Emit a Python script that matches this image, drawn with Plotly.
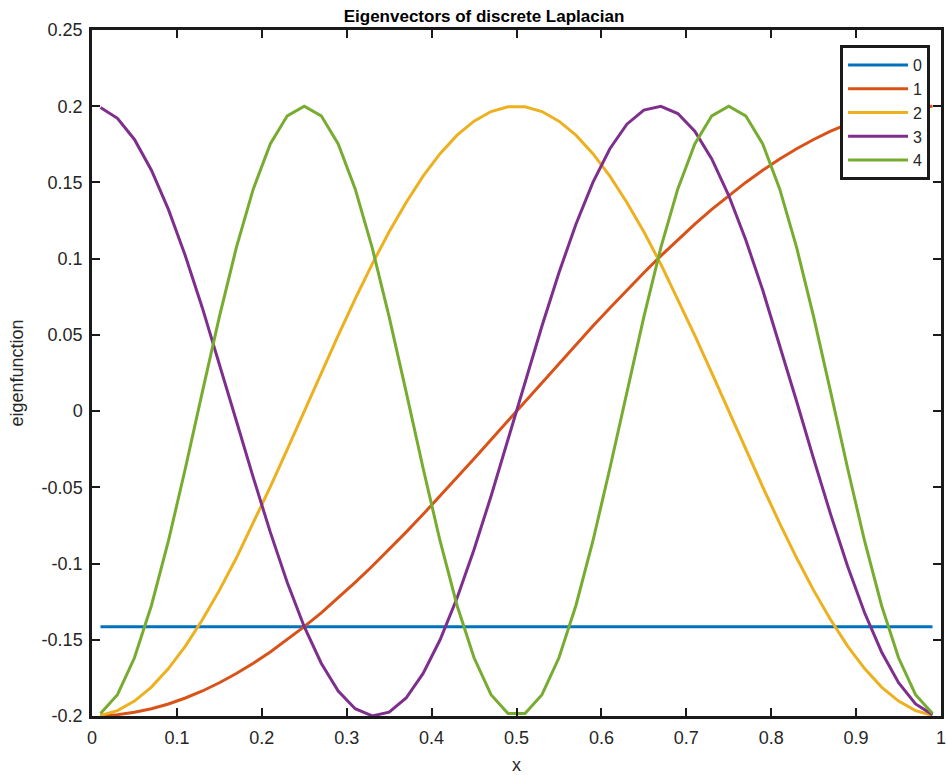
import plotly.graph_objects as go

x = [0.01, 0.03, 0.05, 0.07, 0.09, 0.11, 0.13, 0.15, 0.17, 0.19,
     0.21, 0.23, 0.25, 0.27, 0.29, 0.31, 0.33, 0.35, 0.37, 0.39,
     0.41, 0.43, 0.45, 0.47, 0.49, 0.51, 0.53, 0.55, 0.57, 0.59,
     0.61, 0.63, 0.65, 0.67, 0.69, 0.71, 0.73, 0.75, 0.77, 0.79,
     0.81, 0.83, 0.85, 0.87, 0.89, 0.91, 0.93, 0.95, 0.97, 0.99]

y0 = [-0.1414, -0.1414, -0.1414, -0.1414, -0.1414, -0.1414, -0.1414, -0.1414, -0.1414, -0.1414,
      -0.1414, -0.1414, -0.1414, -0.1414, -0.1414, -0.1414, -0.1414, -0.1414, -0.1414, -0.1414,
      -0.1414, -0.1414, -0.1414, -0.1414, -0.1414, -0.1414, -0.1414, -0.1414, -0.1414, -0.1414,
      -0.1414, -0.1414, -0.1414, -0.1414, -0.1414, -0.1414, -0.1414, -0.1414, -0.1414, -0.1414,
      -0.1414, -0.1414, -0.1414, -0.1414, -0.1414, -0.1414, -0.1414, -0.1414, -0.1414, -0.1414]

y1 = [-0.1999, -0.1991, -0.1975, -0.1952, -0.1921, -0.1882, -0.1836, -0.1782, -0.1721, -0.1654,
      -0.1580, -0.1500, -0.1414, -0.1323, -0.1226, -0.1124, -0.1018, -0.0908, -0.0794, -0.0677,
      -0.0558, -0.0436, -0.0313, -0.0188, -0.0063, 0.0063, 0.0188, 0.0313, 0.0436, 0.0558,
      0.0677, 0.0794, 0.0908, 0.1018, 0.1124, 0.1226, 0.1323, 0.1414, 0.1500, 0.1580,
      0.1654, 0.1721, 0.1782, 0.1836, 0.1882, 0.1921, 0.1952, 0.1975, 0.1991, 0.1999]

y2 = [-0.1996, -0.1965, -0.1902, -0.1810, -0.1689, -0.1541, -0.1369, -0.1176, -0.0964, -0.0736,
      -0.0497, -0.0251, 0.0000, 0.0251, 0.0497, 0.0736, 0.0964, 0.1176, 0.1369, 0.1541,
      0.1689, 0.1810, 0.1902, 0.1965, 0.1996, 0.1996, 0.1965, 0.1902, 0.1810, 0.1689,
      0.1541, 0.1369, 0.1176, 0.0964, 0.0736, 0.0497, 0.0251, 0.0000, -0.0251, -0.0497,
      -0.0736, -0.0964, -0.1176, -0.1369, -0.1541, -0.1689, -0.1810, -0.1902, -0.1965, -0.1996]

y3 = [0.1991, 0.1921, 0.1782, 0.1580, 0.1323, 0.1018, 0.0677, 0.0313, -0.0063, -0.0436,
      -0.0794, -0.1124, -0.1414, -0.1654, -0.1836, -0.1952, -0.1999, -0.1975, -0.1882, -0.1721,
      -0.1500, -0.1226, -0.0908, -0.0558, -0.0188, 0.0188, 0.0558, 0.0908, 0.1226, 0.1500,
      0.1721, 0.1882, 0.1975, 0.1999, 0.1952, 0.1836, 0.1654, 0.1414, 0.1124, 0.0794,
      0.0436, 0.0063, -0.0313, -0.0677, -0.1018, -0.1323, -0.1580, -0.1782, -0.1921, -0.1991]

y4 = [-0.1984, -0.1860, -0.1618, -0.1275, -0.0852, -0.0375, 0.0126, 0.0618, 0.1072, 0.1458,
      0.1753, 0.1937, 0.2000, 0.1937, 0.1753, 0.1458, 0.1072, 0.0618, 0.0126, -0.0375,
      -0.0852, -0.1275, -0.1618, -0.1860, -0.1984, -0.1984, -0.1860, -0.1618, -0.1275, -0.0852,
      -0.0375, 0.0126, 0.0618, 0.1072, 0.1458, 0.1753, 0.1937, 0.2000, 0.1937, 0.1753,
      0.1458, 0.1072, 0.0618, 0.0126, -0.0375, -0.0852, -0.1275, -0.1618, -0.1860, -0.1984]

series_names = ["0", "1", "2", "3", "4"]
series_values = [y0, y1, y2, y3, y4]
colors = ["#0072BD", "#D95319", "#EDB120", "#7E2F8E", "#77AC30"]

x_ticks = [0, 0.1, 0.2, 0.3, 0.4, 0.5, 0.6, 0.7, 0.8, 0.9, 1]
x_tick_text = ["0", "0.1", "0.2", "0.3", "0.4", "0.5", "0.6", "0.7", "0.8", "0.9", "1"]
y_ticks = [-0.2, -0.15, -0.1, -0.05, 0, 0.05, 0.1, 0.15, 0.2, 0.25]
y_tick_text = ["-0.2", "-0.15", "-0.1", "-0.05", "0", "0.05", "0.1", "0.15", "0.2", "0.25"]

FONT = "Liberation Sans, Arial, Helvetica, sans-serif"
W, H = 946, 775
L, R, T, B = 92, 0, 30, 59

fig = go.Figure()
for name, ys, c in zip(series_names, series_values, colors):
    fig.add_trace(go.Scatter(x=x, y=ys, mode="lines", name=name,
                             line=dict(color=c, width=3)))

axis_common = dict(showline=True, linecolor="#1a1a1a", linewidth=2.5, mirror="ticks",
                   ticks="inside", ticklen=8, tickwidth=2, tickcolor="#1a1a1a",
                   showgrid=False, zeroline=False,
                   tickfont=dict(family=FONT, size=18, color="#262626"))

fig.update_layout(
    width=W, height=H,
    margin=dict(l=L, r=R, t=T, b=B),
    paper_bgcolor="white", plot_bgcolor="white",
    font=dict(family=FONT, color="#262626"),
    title=dict(text="<b>Eigenvectors of discrete Laplacian</b>",
               font=dict(family=FONT, size=17, color="black"),
               xref="container", x=484 / W, xanchor="center",
               yref="container", y=1 - 16 / H, yanchor="middle"),
    xaxis=dict(range=[0, 1], tickvals=x_ticks, ticktext=x_tick_text, ticklabelstandoff=4,
               ticklabeloverflow="allow",
               title=dict(text="x", font=dict(family=FONT, size=18, color="#262626"), standoff=12),
               **axis_common),
    yaxis=dict(range=[-0.2, 0.25], tickvals=y_ticks, ticktext=y_tick_text, ticklabelstandoff=3,
               title=dict(text="eigenfunction", font=dict(family=FONT, size=18, color="#262626"), standoff=14),
               **axis_common),
    legend=dict(x=(935 - L) / (W - L - R), y=(H - B - 45) / (H - T - B),
                xanchor="right", yanchor="top",
                bgcolor="white", bordercolor="#1a1a1a", borderwidth=3,
                font=dict(family=FONT, size=16, color="#262626"),
                itemwidth=60, tracegroupgap=0),
    showlegend=True,
)

fig.write_html("out.html",
               config={"displayModeBar": False},
               post_script="document.body.style.margin='0';document.body.style.overflow='hidden';")
